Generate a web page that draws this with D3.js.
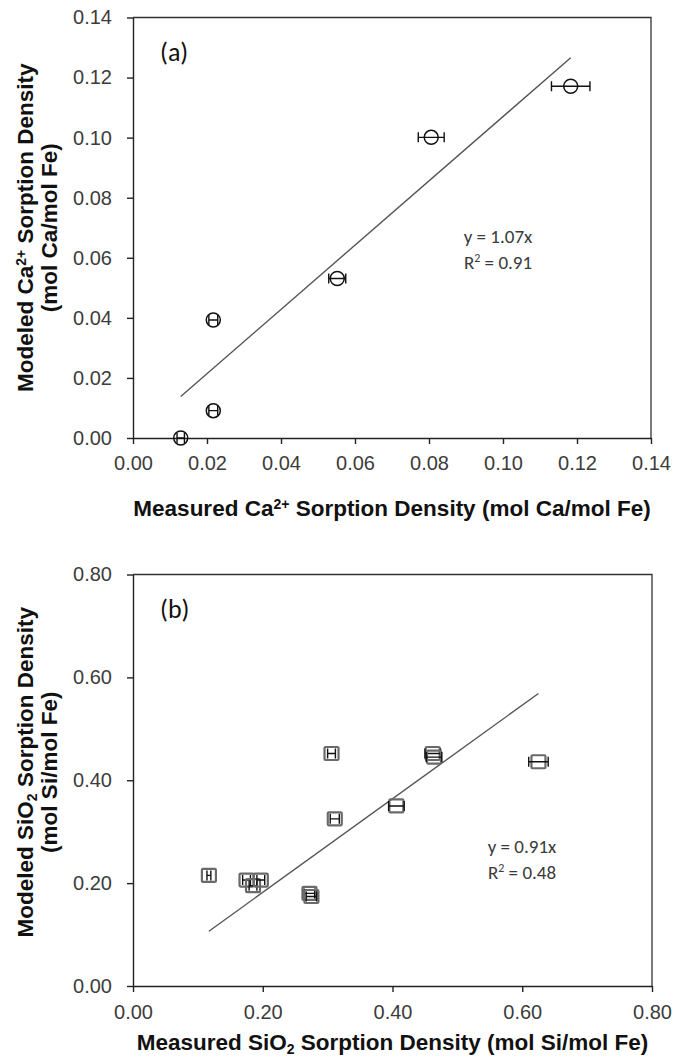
<!DOCTYPE html>
<html><head><meta charset="utf-8">
<script src="https://cdn.jsdelivr.net/npm/d3@7"></script>
<style>body{margin:0;background:#fff}</style>
</head><body>
<svg id="chart" width="673" height="1059"></svg>
<script>
// Panel (a): calcium sorption, measured vs modeled
const caMeasured = [0.0129, 0.0217, 0.0217, 0.0552, 0.0806, 0.1183];
const caModeled  = [0.0000, 0.0091, 0.0393, 0.0531, 0.1001, 0.1171];
const caError    = [0.0010, 0.0012, 0.0012, 0.0023, 0.0035, 0.0052];
const caTicks    = [0, 0.02, 0.04, 0.06, 0.08, 0.10, 0.12, 0.14];
const caSlope = 1.07, caR2 = "0.91";

// Panel (b): silica sorption, measured vs modeled
const siMeasured = [0.117, 0.175, 0.185, 0.197, 0.272, 0.275, 0.306, 0.311, 0.406, 0.462, 0.464, 0.625];
const siModeled  = [0.215, 0.206, 0.195, 0.206, 0.180, 0.174, 0.452, 0.325, 0.350, 0.452, 0.445, 0.436];
const siError    = [0.003, 0.006, 0.006, 0.006, 0.008, 0.008, 0.006, 0.007, 0.012, 0.012, 0.012, 0.015];
const siTicks    = [0, 0.2, 0.4, 0.6, 0.8];
const siSlope = 0.91, siR2 = "0.48";

const svg = d3.select("#chart");
const fmt = d3.format(".2f");
const tickFont = "Liberation Sans, Arial, sans-serif";
const noteFont = "Carlito, Calibri, Lato, 'Open Sans', sans-serif";

function panel(cfg) {
  const x = d3.scaleLinear().domain([0, cfg.max]).range([cfg.left, cfg.right]);
  const y = d3.scaleLinear().domain([0, cfg.max]).range([cfg.bottom, cfg.top]);
  const g = svg.append("g");

  // frame (top and right)
  g.append("path")
    .attr("d", `M${cfg.left},${cfg.top}H${cfg.right}V${cfg.bottom}`)
    .attr("fill", "none").attr("stroke", "#333").attr("stroke-width", 1.3);

  const xa = g.append("g").attr("transform", `translate(0,${cfg.bottom})`)
    .call(d3.axisBottom(x).tickValues(cfg.ticks).tickFormat(fmt).tickSize(6).tickSizeOuter(0).tickPadding(cfg.xPad));
  const ya = g.append("g").attr("transform", `translate(${cfg.left},0)`)
    .call(d3.axisLeft(y).tickValues(cfg.ticks).tickFormat(fmt).tickSize(6).tickSizeOuter(0).tickPadding(15));
  [xa, ya].forEach(a => {
    a.select(".domain").attr("stroke", "#222").attr("stroke-width", 1.4);
    a.selectAll(".tick line").attr("stroke", "#222").attr("stroke-width", 1.4);
    a.selectAll(".tick text").attr("font-family", tickFont).attr("font-size", 20).attr("fill", "#3c3c3c");
  });

  // linear fit through the origin, across the measured range
  const x0 = d3.min(cfg.mx), x1 = d3.max(cfg.mx);
  g.append("line")
    .attr("x1", x(x0)).attr("y1", y(cfg.slope * x0))
    .attr("x2", x(x1)).attr("y2", y(cfg.slope * x1))
    .attr("stroke", "#555").attr("stroke-width", 1.4);

  const pts = cfg.mx.map((v, i) => ({ mx: v, my: cfg.my[i], e: cfg.err[i] }));
  const m = g.append("g").selectAll("g").data(pts).join("g");

  if (cfg.shape === "circle") {
    m.append("circle").attr("cx", d => x(d.mx)).attr("cy", d => y(d.my)).attr("r", 7)
      .attr("fill", "none").attr("stroke", "#111").attr("stroke-width", 1.5);
  } else {
    m.append("rect").attr("x", d => x(d.mx) - 7).attr("y", d => y(d.my) - 6.5)
      .attr("width", 14).attr("height", 13).attr("rx", 1)
      .attr("fill", "none").attr("stroke", "#6a6a6a").attr("stroke-width", 2.2);
  }
  // horizontal error bars with caps
  m.append("path")
    .attr("d", d => {
      const a = x(d.mx - d.e), b = x(d.mx + d.e), c = y(d.my);
      return `M${a},${c}H${b}M${a},${c - 5}V${c + 5}M${b},${c - 5}V${c + 5}`;
    })
    .attr("fill", "none").attr("stroke", "#111").attr("stroke-width", 1.4);

  // panel tag
  g.append("text").attr("x", cfg.left + 27).attr("y", cfg.top + 43)
    .attr("font-family", noteFont).attr("font-size", 26).attr("fill", "#111").text(cfg.tag);

  // fit annotation
  const note = g.append("text").attr("font-family", noteFont).attr("font-size", 19)
    .attr("fill", "#3a3a3a").attr("text-anchor", "middle");
  note.append("tspan").attr("x", cfg.noteX).attr("y", cfg.noteY).text(`y = ${cfg.slope.toFixed(2)}x`);
  const r = note.append("tspan").attr("x", cfg.noteX).attr("y", cfg.noteY + 26).text("R");
  r.append("tspan").attr("baseline-shift", "super").attr("font-size", 12).text("2");
  r.append("tspan").text(` = ${cfg.r2}`);

  // axis titles
  const title = (tx, ty, rot, parts) => {
    const t = g.append("text").attr("text-anchor", "middle")
      .attr("transform", `translate(${tx},${ty}) rotate(${rot})`)
      .attr("font-family", tickFont).attr("font-weight", "bold").attr("font-size", 22.5).attr("fill", "#111");
    parts.forEach(p => {
      const s = t.append("tspan").text(p[0]);
      if (p[1] === "super") s.attr("baseline-shift", "7").attr("font-size", 14);
      if (p[1] === "sub") s.attr("baseline-shift", "-4").attr("font-size", 14);
    });
    return t;
  };
  const cx = (cfg.left + cfg.right) / 2 + 0, cy = (cfg.top + cfg.bottom) / 2 + cfg.yShift;
  title(cx, cfg.xTitleY, 0, cfg.xTitle);
  title(33, cy, -90, cfg.yTitle1);
  title(57, cy, -90, [[cfg.yTitle2]]);
}

panel({
  left: 133, right: 651, top: 17.5, bottom: 438, max: 0.14, ticks: caTicks,
  mx: caMeasured, my: caModeled, err: caError, slope: caSlope, r2: caR2, shape: "circle",
  tag: "(a)", noteX: 498, noteY: 243, xTitleY: 516, xPad: 12, yShift: 0,
  xTitle: [["Measured Ca"], ["2+", "super"], [" Sorption Density (mol Ca/mol Fe)"]],
  yTitle1: [["Modeled Ca"], ["2+", "super"], [" Sorption Density"]],
  yTitle2: "(mol Ca/mol Fe)"
});

panel({
  left: 133, right: 652, top: 574.5, bottom: 986, max: 0.8, ticks: siTicks,
  mx: siMeasured, my: siModeled, err: siError, slope: siSlope, r2: siR2, shape: "square",
  tag: "(b)", noteX: 522, noteY: 853, xTitleY: 1050, xPad: 13, yShift: -8,
  xTitle: [["Measured SiO"], ["2", "sub"], [" Sorption Density (mol Si/mol Fe)"]],
  yTitle1: [["Modeled SiO"], ["2", "sub"], [" Sorption Density"]],
  yTitle2: "(mol Si/mol Fe)"
});
</script>
</body></html>
